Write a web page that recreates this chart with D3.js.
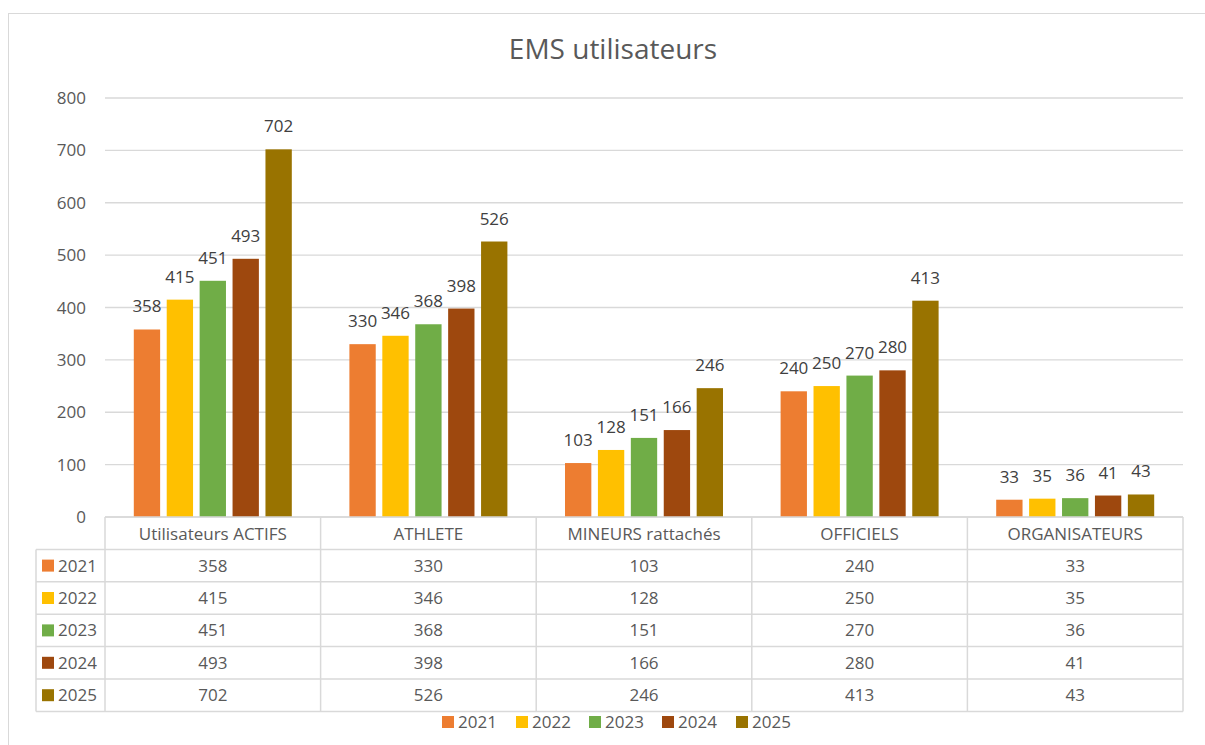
<!DOCTYPE html>
<html>
<head>
<meta charset="utf-8">
<script src="https://cdn.jsdelivr.net/npm/d3@7"></script>
<style>
  body { margin: 0; background: #fff; }
  svg { font-family: "Open Sans", "Noto Sans", sans-serif; }
</style>
</head>
<body>
<svg width="1205" height="745"></svg>
<script>
// chart data
const categories = ["Utilisateurs ACTIFS", "ATHLETE", "MINEURS rattachés", "OFFICIELS", "ORGANISATEURS"]
const years = ["2021", "2022", "2023", "2024", "2025"]
const values2021 = [358, 330, 103, 240, 33]
const values2022 = [415, 346, 128, 250, 35]
const values2023 = [451, 368, 151, 270, 36]
const values2024 = [493, 398, 166, 280, 41]
const values2025 = [702, 526, 246, 413, 43]
const yTicks = [0, 100, 200, 300, 400, 500, 600, 700, 800]
const colors = ["#ED7D31", "#FFC000", "#70AD47", "#9E480E", "#997300"]

const series = [values2021, values2022, values2023, values2024, values2025]

const svg = d3.select("svg")
const textColor = "#595959"
const lineColor = "#d9d9d9"

// plot area
const plotLeft = 105, plotRight = 1183
const plotTop = 98, plotBottom = 517
const rowH = 32.4
const groupW = 158

// outer frame
svg.append("rect")
    .attr("x", 8.5).attr("y", 13.5)
    .attr("width", 1205).attr("height", 740)
    .attr("fill", "none").attr("stroke", lineColor)

svg.append("text")
    .attr("x", 613).attr("y", 59)
    .attr("text-anchor", "middle")
    .attr("font-size", 28)
    .attr("fill", textColor)
    .text("EMS utilisateurs")

const x = d3.scaleBand().domain(categories).range([plotLeft, plotRight])
const xs = d3.scaleBand().domain(years).range([0, groupW]).paddingInner(0.2)
const y = d3.scaleLinear().domain([0, 800]).range([plotBottom, plotTop])

// gridlines
svg.append("g")
    .selectAll("line")
    .data(yTicks)
    .join("line")
    .attr("x1", plotLeft).attr("x2", plotRight)
    .attr("y1", d => y(d)).attr("y2", d => y(d))
    .attr("stroke", lineColor).attr("stroke-width", 1.3)

// y tick labels
svg.append("g")
    .selectAll("text")
    .data(yTicks)
    .join("text")
    .attr("x", 86).attr("y", d => y(d) + 6)
    .attr("text-anchor", "end")
    .attr("font-size", 17)
    .attr("fill", textColor)
    .text(d => d)

// bars
series.forEach((vals, si) => {
    const g = svg.append("g")
    const offset = (x.bandwidth() - groupW) / 2
    g.selectAll("rect")
        .data(vals)
        .join("rect")
        .attr("x", (d, i) => x(categories[i]) + offset + xs(years[si]))
        .attr("y", d => y(d))
        .attr("width", xs.bandwidth())
        .attr("height", d => y(0) - y(d))
        .attr("fill", colors[si])
    g.selectAll("text")
        .data(vals)
        .join("text")
        .attr("x", (d, i) => x(categories[i]) + offset + xs(years[si]) + xs.bandwidth() / 2)
        .attr("y", d => y(d) - 17)
        .attr("text-anchor", "middle")
        .attr("font-size", 17)
        .attr("fill", "#404040")
        .text(d => d)
})

// data table
const table = svg.append("g")
const tableLeft = 36
const tableBottom = plotBottom + rowH * 6

// horizontal lines
table.append("line")
    .attr("x1", plotLeft).attr("x2", plotRight)
    .attr("y1", plotBottom).attr("y2", plotBottom)
    .attr("stroke", lineColor).attr("stroke-width", 1.5)
d3.range(1, 7).forEach(r => {
    table.append("line")
        .attr("x1", tableLeft).attr("x2", plotRight)
        .attr("y1", plotBottom + r * rowH).attr("y2", plotBottom + r * rowH)
        .attr("stroke", lineColor).attr("stroke-width", 1.5)
})
// vertical lines
table.append("line")
    .attr("x1", tableLeft).attr("x2", tableLeft)
    .attr("y1", plotBottom + rowH).attr("y2", tableBottom)
    .attr("stroke", lineColor).attr("stroke-width", 1.5)
categories.forEach(c => {
    table.append("line")
        .attr("x1", x(c)).attr("x2", x(c))
        .attr("y1", plotBottom).attr("y2", tableBottom)
        .attr("stroke", lineColor).attr("stroke-width", 1.5)
})
table.append("line")
    .attr("x1", plotRight).attr("x2", plotRight)
    .attr("y1", plotBottom).attr("y2", tableBottom)
    .attr("stroke", lineColor).attr("stroke-width", 1.5)

// header
table.selectAll("text.head")
    .data(categories)
    .join("text")
    .attr("class", "head")
    .attr("x", d => x(d) + x.bandwidth() / 2)
    .attr("y", plotBottom + rowH / 2 + 7)
    .attr("text-anchor", "middle")
    .attr("font-size", 17)
    .attr("fill", textColor)
    .text(d => d)

// rows
series.forEach((vals, si) => {
    const cy = plotBottom + rowH * (si + 1) + rowH / 2
    table.append("rect")
        .attr("x", 42).attr("y", cy - 6)
        .attr("width", 12).attr("height", 12)
        .attr("fill", colors[si])
    table.append("text")
        .attr("x", 58).attr("y", cy + 6)
        .attr("font-size", 17)
        .attr("fill", textColor)
        .text(years[si])
    table.selectAll("text.v" + si)
        .data(vals)
        .join("text")
        .attr("class", "v" + si)
        .attr("x", (d, i) => x(categories[i]) + x.bandwidth() / 2)
        .attr("y", cy + 6)
        .attr("text-anchor", "middle")
        .attr("font-size", 17)
        .attr("fill", textColor)
        .text(d => d)
})

// legend
const legendX = [442, 516, 589, 662, 736]
years.forEach((yr, i) => {
    svg.append("rect")
        .attr("x", legendX[i]).attr("y", 716)
        .attr("width", 12).attr("height", 12)
        .attr("fill", colors[i])
    svg.append("text")
        .attr("x", legendX[i] + 16).attr("y", 728)
        .attr("font-size", 17)
        .attr("fill", textColor)
        .text(yr)
})
</script>
</body>
</html>
